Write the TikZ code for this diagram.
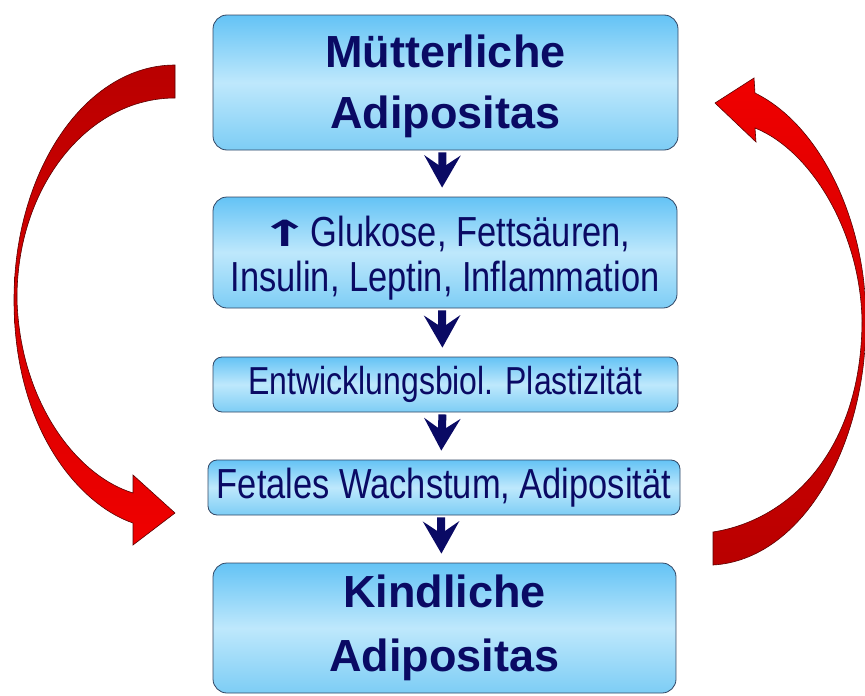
\documentclass[tikz,border=0pt]{standalone}
\usepackage{fontspec}
\setmainfont{Liberation Sans}
\newfontfamily\narrowfont[FakeStretch=0.82]{Liberation Sans}
\newfontfamily\arrowfont{DejaVu Sans}
\usetikzlibrary{arrows.meta}
\definecolor{navy}{RGB}{10,10,100}
\definecolor{boxtop}{RGB}{100,195,245}
\definecolor{boxmid}{RGB}{190,232,252}
\definecolor{boxbot}{RGB}{125,205,245}
\definecolor{boxline}{RGB}{50,70,100}
\definecolor{redbright}{RGB}{240,0,0}
\definecolor{reddark}{RGB}{185,0,0}
\definecolor{redline}{RGB}{90,0,0}
\begin{document}
\begin{tikzpicture}[x=1pt,y=-1pt]
\useasboundingbox (0,0) rectangle (865,696);
\tikzset{
  box/.style={draw=boxline, line width=0.8pt, rounded corners=14pt,
    top color=boxtop, bottom color=boxbot, middle color=boxmid,
    text=navy, align=center, inner sep=0pt},
  smallbox/.style={box, rounded corners=9pt},
  titletext/.style={font=\fontsize{45}{61}\selectfont\bfseries},
  bodytext/.style={font=\narrowfont\fontsize{42}{45}\selectfont},
  conn/.style={draw=navy, line width=8pt,
    -{Stealth[length=32pt,width=36pt,inset=12pt]},
    shorten <=2pt, shorten >=9pt},
  redarrow/.style={draw=redline, line width=0.6pt}
}
% boxes
\node[box, titletext, minimum width=465pt, minimum height=135pt] (b1) at (445.5,82.5)
  {\rule{0pt}{40pt}Mütterliche\\Adipositas};
\node[box, bodytext, minimum width=464pt, minimum height=111pt] (b2) at (445,252.5)
  {\rule{0pt}{42pt}{\arrowfont\bfseries\fontsize{36}{36}\selectfont\scalebox{1.7}[1]{↑}}Glukose, Fettsäuren,\\Insulin, Leptin, Inflammation};
\node[smallbox, font=\narrowfont\fontsize{39}{45}\selectfont, minimum width=465pt, minimum height=55pt] (b3) at (445.5,384.5)
  {Entwicklungsbiol. Plastizität};
\node[smallbox, bodytext, minimum width=472pt, minimum height=55pt] (b4) at (444,487.5)
  {Fetales Wachstum, Adiposität};
\node[box, font=\fontsize{45}{64}\selectfont\bfseries, minimum width=463pt, minimum height=130pt] (b5) at (444.5,628)
  {Kindliche\\Adipositas};
% connectors
\draw[conn] ([xshift=-3pt]b1.south) -- ([xshift=-3pt]b2.north);
\draw[conn] ([xshift=-3pt]b2.south) -- ([xshift=-3pt]b3.north);
\draw[conn] ([xshift=-3pt]b3.south) -- ([xshift=-3pt]b4.north);
\draw[conn] ([xshift=-3pt]b4.south) -- ([xshift=-3pt]b5.north);
% left red curved arrow
\path[redarrow, top color=reddark, bottom color=redbright]
  (175,65) .. controls (86,65) and (14,170) .. (14,300)
  .. controls (14,430) and (80,505) .. (133,523)
  -- (133,545) -- (175,513) -- (133,475) -- (133,493)
  .. controls (75,475) and (20,400) .. (17,300)
  .. controls (16,188) and (87,98) .. (175,98) -- cycle;
% right red curved arrow
\path[redarrow, top color=redbright, bottom color=reddark]
  (713,565) .. controls (800,560) and (866,450) .. (866,320)
  .. controls (866,220) and (820,125) .. (755,93)
  -- (754,78) -- (715,103) -- (756,142) -- (755,128)
  .. controls (810,150) and (860,230) .. (862,320)
  .. controls (862,450) and (790,520) .. (713,532) -- cycle;
\end{tikzpicture}
\end{document}
